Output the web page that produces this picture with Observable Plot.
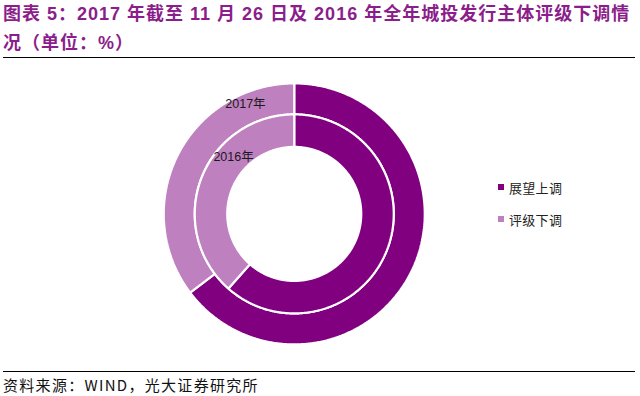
<!DOCTYPE html>
<html>
<head>
<meta charset="utf-8">
<script src="https://cdn.jsdelivr.net/npm/d3@7"></script>
<script src="https://cdn.jsdelivr.net/npm/@observablehq/plot@0.6"></script>
<style>
  html, body { margin: 0; padding: 0; background: #fff; }
  #page { position: relative; width: 640px; height: 396px; overflow: hidden; font-family: "Liberation Sans", Arial, "Noto Sans CJK SC", sans-serif; }
  #title { position: absolute; left: 3px; top: 0px; width: 637px; font-size: 18px; font-weight: bold; line-height: 29px; color: #8B1E8B; letter-spacing: 1.0px; white-space: nowrap; }
  #rule1 { position: absolute; left: 3px; top: 57px; width: 632px; height: 0; border-top: 1.5px solid #000; }
  #chart { position: absolute; left: 0; top: 70px; }
  #legend { position: absolute; left: 498px; top: 178px; font-size: 13px; color: #222; font-family: "Noto Sans CJK SC", sans-serif; letter-spacing: 0.3px; }
  .item { display: flex; align-items: center; height: 18px; margin-bottom: 14px; }
  .sw { width: 6px; height: 6px; margin-right: 5px; }
  #rule2 { position: absolute; left: 3px; top: 371px; width: 632px; height: 0; border-top: 1.2px solid #000; }
  #source { position: absolute; left: 3px; top: 374px; font-size: 15px; letter-spacing: 1.3px; color: #111; font-family: "Noto Sans CJK SC", "Liberation Sans", sans-serif; }
</style>
</head>
<body>
<div id="page">
  <div id="title">图表 5：2017 年截至 11 月 26 日及 2016 年全年城投发行主体评级下调情<br>况（单位：%）</div>
  <div id="rule1"></div>
  <div id="chart"></div>
  <div id="legend"></div>
  <div id="rule2"></div>
  <div id="source">资料来源：WIND，光大证券研究所</div>
</div>
<script>
// ---- data ----
const categories = ["展望上调", "评级下调"];
const years = ["2017年", "2016年"];
const values2017 = [64.7, 35.3];
const values2016 = [61.5, 38.5];
const colors = ["#800080", "#BF80BF"];

// ---- layout constants ----
const W = 640, H = 300;
const cx = 293.75, cy = 143.4; // centre inside the svg
const rings = [
  {year: years[0], values: values2017, r0: 99.5, r1: 130.5, labelR: 120, labelAng: -24},
  {year: years[1], values: values2016, r0: 67, r1: 99.5, labelR: 83, labelAng: -47}
];

// build slice outlines from the values (angles clockwise from 12 o'clock)
const pts = [];
for (const ring of rings) {
  const total = d3.sum(ring.values);
  let acc = 0;
  ring.values.forEach((v, i) => {
    const a0 = acc / total * 360, a1 = (acc + v) / total * 360;
    acc += v;
    const key = ring.year + "-" + categories[i];
    const n = Math.max(2, Math.ceil((a1 - a0) / 0.5));
    const push = (r, a) => {
      const t = a * Math.PI / 180;
      pts.push({key, category: categories[i], x: r * Math.sin(t), y: r * Math.cos(t)});
    };
    for (let k = 0; k <= n; k++) push(ring.r1, a0 + (a1 - a0) * k / n);
    for (let k = n; k >= 0; k--) push(ring.r0, a0 + (a1 - a0) * k / n);
  });
}
const labels = rings.map(r => {
  const t = r.labelAng * Math.PI / 180;
  return {text: r.year, x: r.labelR * Math.sin(t), y: r.labelR * Math.cos(t)};
});

const plot = Plot.plot({
  width: W, height: H,
  margin: 0,
  x: {domain: [-cx, W - cx], axis: null},
  y: {domain: [-(H - cy), cy], axis: null},
  color: {domain: categories, range: colors},
  marks: [
    Plot.line(pts, {x: "x", y: "y", z: "key", fill: "category", stroke: "white", strokeWidth: 2.2, curve: "linear-closed", strokeLinejoin: "miter"}),
    Plot.text(labels, {x: "x", y: "y", text: "text", fontSize: 12.5, fill: "#1a1a1a", fontFamily: "'Liberation Sans', 'Noto Sans CJK SC', sans-serif"})
  ]
});
document.getElementById("chart").appendChild(plot);

// legend from the plot's colour scale
const cs = plot.scale("color");
const leg = document.getElementById("legend");
cs.domain.forEach((c, i) => {
  const it = document.createElement("div");
  it.className = "item";
  const sw = document.createElement("span");
  sw.className = "sw";
  sw.style.background = cs.range[i];
  const tx = document.createElement("span");
  tx.textContent = c;
  it.appendChild(sw); it.appendChild(tx);
  leg.appendChild(it);
});
</script>
</body>
</html>
